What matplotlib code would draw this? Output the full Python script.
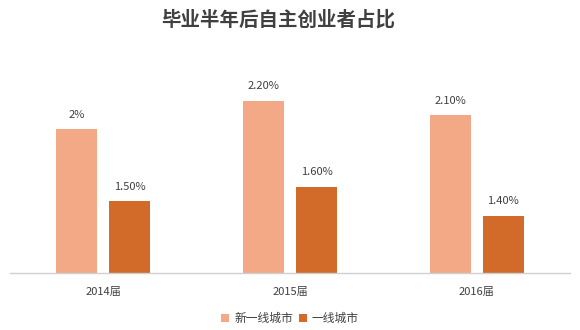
import matplotlib
matplotlib.use('Agg')
import matplotlib.pyplot as plt
import numpy as np

plt.rcParams['font.family'] = ['Noto Sans CJK SC', 'DejaVu Sans']

# data
years = ['2014届', '2015届', '2016届']
new_tier1 = [2.0, 2.2, 2.1]
tier1 = [1.5, 1.6, 1.4]
new_labels = ['2%', '2.20%', '2.10%']
tier1_labels = ['1.50%', '1.60%', '1.40%']

c_light = '#F3A886'
c_dark = '#D26B2A'

fig = plt.figure(figsize=(5.8, 3.3), dpi=100)
ax = fig.add_axes([10/580, 57/330, 560/580, (273-43)/330])

x = np.arange(len(years))
w = 0.22
off = 0.142
ax.bar(x - off, new_tier1, w, color=c_light, label='新一线城市')
ax.bar(x + off, tier1, w, color=c_dark, label='一线城市')

for xi, v, lab in zip(x, new_tier1, new_labels):
    ax.text(xi - off, v + 0.065, lab, ha='center', va='bottom', fontsize=8, color='#404040')
for xi, v, lab in zip(x, tier1, tier1_labels):
    ax.text(xi + off, v + 0.065, lab, ha='center', va='bottom', fontsize=8, color='#404040')

ax.set_ylim(1.0, 2.6)
ax.set_xlim(-0.5, 2.5)
ax.set_xticks(x)
ax.set_xticklabels(years, fontsize=8, color='#404040')
ax.tick_params(axis='x', length=0, pad=10)
ax.set_yticks([])
for s in ['top', 'right', 'left']:
    ax.spines[s].set_visible(False)
ax.spines['bottom'].set_color('#d0d0d0')
ax.spines['bottom'].set_linewidth(1)

fig.text(0.479, 0.94, '毕业半年后自主创业者占比', ha='center', va='center',
         fontsize=14, fontweight='bold', color='#404040')

fig.legend(loc='center', bbox_to_anchor=(0.5, 0.035), ncol=2, frameon=False,
           fontsize=8.5, handlelength=0.7, handleheight=0.7, handletextpad=0.4,
           columnspacing=0.5, labelcolor='#404040')

fig.savefig('out.png', dpi=100)
